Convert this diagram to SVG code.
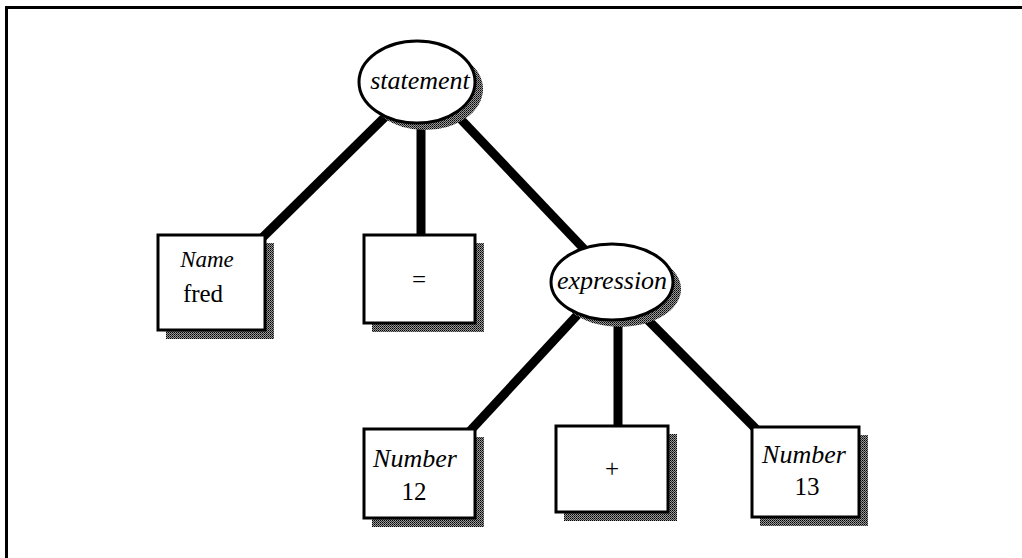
<svg xmlns="http://www.w3.org/2000/svg" width="1022" height="558" viewBox="0 0 1022 558">
<style>
.box{fill:#fff;stroke:#000;stroke-width:3}
.shadow{fill:url(#dither)}
.edge{stroke:#000;stroke-width:9;stroke-linecap:butt;fill:none}
.it{font-family:"Liberation Serif",serif;font-style:italic;font-size:26px;text-anchor:middle}
.rm{font-family:"Liberation Serif",serif;font-size:25px;text-anchor:middle}
</style>
<defs>
<pattern id="dither" width="2" height="2" patternUnits="userSpaceOnUse">
<rect width="2" height="2" fill="#999"/>
<rect width="1" height="1" fill="#000"/>
<rect x="1" y="1" width="1" height="1" fill="#333"/>
</pattern>
</defs>
<rect width="1022" height="558" fill="#fff"/>
<path d="M6.500,558 V7.500 H1022" fill="none" stroke="#000" stroke-width="3"/>
<g id="connectors">
<line class="edge" x1="390" y1="112" x2="262" y2="238"/>
<line class="edge" x1="421" y1="120" x2="421" y2="236"/>
<line class="edge" x1="452" y1="110" x2="585" y2="250"/>
<line class="edge" x1="582" y1="310" x2="470" y2="431"/>
<line class="edge" x1="618" y1="318" x2="618" y2="427"/>
<line class="edge" x1="638" y1="310" x2="757" y2="430"/>
</g>
<g id="statement">
<ellipse class="shadow" cx="425" cy="89" rx="58" ry="41"/>
<ellipse class="box" cx="417" cy="82" rx="58" ry="41"/>
<text class="it" x="420" y="89">statement</text>
</g>
<g id="name">
<rect class="shadow" x="166" y="243" width="108" height="96"/>
<rect class="box" x="158" y="235" width="107" height="95"/>
<text class="it" x="207" y="267" style="font-size:23px">Name</text>
<text class="rm" x="203" y="302">fred</text>
</g>
<g id="equals">
<rect class="shadow" x="372" y="243" width="112" height="89"/>
<rect class="box" x="364" y="235" width="111" height="88"/>
<text class="rm" x="419" y="288">=</text>
</g>
<g id="expression">
<ellipse class="shadow" cx="620" cy="289" rx="61" ry="38"/>
<ellipse class="box" cx="612" cy="282" rx="61" ry="38"/>
<text class="it" x="612" y="289">expression</text>
</g>
<g id="number12">
<rect class="shadow" x="372" y="437" width="112" height="90"/>
<rect class="box" x="364" y="429" width="111" height="89"/>
<text class="it" x="415" y="467">Number</text>
<text class="rm" x="414" y="500">12</text>
</g>
<g id="plus">
<rect class="shadow" x="564" y="434" width="113" height="87"/>
<rect class="box" x="556" y="426" width="112" height="86"/>
<text class="rm" x="612" y="477">+</text>
</g>
<g id="number13">
<rect class="shadow" x="760" y="435" width="108" height="91"/>
<rect class="box" x="752" y="427" width="107" height="90"/>
<text class="it" x="804" y="463">Number</text>
<text class="rm" x="807" y="495">13</text>
</g>
</svg>
